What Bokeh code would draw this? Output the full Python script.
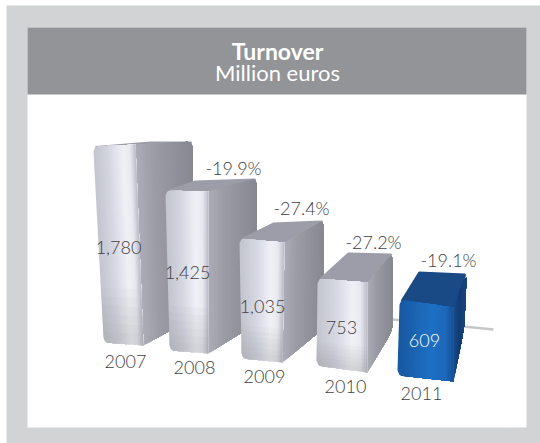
import math
from bokeh.plotting import figure
from bokeh.embed import file_html
from bokeh.resources import INLINE
from bokeh.models import Range1d
from bokeh.core.properties import value

years = ["2007", "2008", "2009", "2010", "2011"]
turnover = [1780, 1425, 1035, 753, 609]
changes = ["-19.9%", "-27.4%", "-27.2%", "-19.1%"]
title_main = "Turnover"
title_sub = "Million euros"

W, H = 540, 443
PX_V = 0.112          # pixels per turnover unit

p = figure(width=W, height=H, output_backend="svg", toolbar_location=None,
           min_border=0, outline_line_color=None, background_fill_color="#ffffff",
           border_fill_color="#ffffff",
           x_range=Range1d(0, W), y_range=Range1d(-H / PX_V, 0))
p.axis.visible = False
p.grid.visible = False

def Y(py):
    return -py / PX_V

def band(x0, x1, y0, y1, c):
    p.quad(left=[x0], right=[x1], top=[Y(y0)], bottom=[Y(y1)], fill_color=c, line_color=None)

def lerp(a, b, t):
    return a + (b - a) * t

def mix(c1, c2, t):
    return "#%02x%02x%02x" % tuple(round(lerp(a, b, t)) for a, b in zip(c1, c2))

def ramp(stops, t):
    for (t0, c0), (t1, c1) in zip(stops, stops[1:]):
        if t <= t1:
            return mix(c0, c1, (t - t0) / max(t1 - t0, 1e-6))
    return mix(stops[-1][1], stops[-1][1], 0)

# frame
band(6, W, 5, H, "#d1d3d4")
band(27, 526, 27, 427, "#ffffff")
band(27, 526, 27, 94, "#929497")

# floor line behind the bars
p.line([392, 493], [Y(319), Y(329)], line_color="#c6c7c9", line_width=2.5)

bases = [
    ((103, 342), (143, 345), (192, 318)),
    ((169, 350), (208, 353), (256, 323)),
    ((241, 358), (282, 362), (323, 328)),
    ((316, 365), (367, 372), (392, 330)),
    ((397, 375), (453, 381), (464, 327)),
]
tops = [
    ((93, 146), (135, 144), (192, 141)),
    ((165, 190), (208, 191), (256, 178)),
    ((239, 238), (284, 242), (323, 220)),
    ((317, 278), (367, 282), (392, 253)),
    ((399, 299), (453, 307), (466, 273)),
]
back_left = [(150, 141), (195, 180), (273, 222), (348, 252), (419, 271)]

grey_front = [(0, (194, 196, 206)), (0.35, (212, 214, 224)), (0.7, (240, 241, 247)), (0.86, (232, 233, 240)), (1, (186, 187, 196))]
grey_side = [(0, (172, 173, 182)), (0.3, (156, 157, 166)), (1, (134, 135, 144))]
blue_front = [(0, (24, 88, 160)), (0.6, (30, 112, 196)), (0.85, (28, 104, 186)), (1, (22, 80, 150))]
blue_side = [(0, (24, 76, 140)), (0.5, (20, 60, 116)), (1, (26, 70, 128))]
N = 30
R = 5.0

def dip(d):
    if d >= R:
        return 0.0
    return R - math.sqrt(max(R * R - (R - d) ** 2, 0))

def face(a_bot, b_bot, a_top, b_top, stops, round_l_top, round_l_bot, round_r_top, round_r_bot, shade=False):
    w = abs(b_bot[0] - a_bot[0]) + 1e-6
    outline = None
    for k in range(N):
        t0 = k / N
        ts = [j / N for j in range(k, N)] + [1.0]
        bot, top = [], []
        for t in ts:
            dl, dr = t * w, (1 - t) * w
            off_b = (dip(dl) if round_l_bot else 0) + (dip(dr) if round_r_bot else 0)
            off_t = (dip(dl) if round_l_top else 0) + (dip(dr) if round_r_top else 0)
            bot.append((lerp(a_bot[0], b_bot[0], t), lerp(a_bot[1], b_bot[1], t) - off_b))
            top.append((lerp(a_top[0], b_top[0], t), lerp(a_top[1], b_top[1], t) + off_t))
        if k == 0:
            outline = (bot, top)
        q = bot + top[::-1]
        col = ramp(stops, (t0 + 0.5 / N))
        p.patch([c[0] for c in q], [Y(c[1]) for c in q], fill_color=col, line_color=None)
    if shade:
        # the lower part of a grey front falls slightly darker
        bot, top = outline
        for s in range(6):
            f = 0.72 + s * 0.045
            mid = [(lerp(a[0], b[0], f), lerp(a[1], b[1], f)) for a, b in zip(top, bot)]
            q = mid + bot[::-1]
            p.patch([c[0] for c in q], [Y(c[1]) for c in q], fill_color="#70727e", fill_alpha=0.035, line_color=None)

for i, v in enumerate(turnover):
    fl, fr, br = bases[i]
    tfl, tfr, tbr = tops[i]
    tbl = back_left[i]
    blue = i == 4
    top_col = "#1a4a85" if blue else "#9c9da8"
    p.patch([tfl[0] + 3, tfr[0], tbr[0] - 2, tbl[0]],
            [Y(tfl[1] + 1), Y(tfr[1] + 1), Y(tbr[1] + 1.5), Y(tbl[1] + 1.5)],
            fill_color=top_col, line_color=top_col, line_width=3, line_join="round")
    face(fr, br, tfr, tbr, blue_side if blue else grey_side, False, False, True, True)
    face(fl, fr, tfl, tfr, blue_front if blue else grey_front, True, True, False, False, shade=not blue)

text_col = "#414042"
font = value("Lato Light")
val_pos = [(118, 247), (187, 272), (262, 306), (341, 327), (424, 340)]
year_pos = [(125, 361), (194, 367), (264, 376), (345, 386), (421, 393)]
chg_pos = [(233, 167), (301, 207), (373, 241), (448, 259)]

for i, v in enumerate(turnover):
    p.text([val_pos[i][0]], [Y(val_pos[i][1])], text=[f"{v:,}"], text_align="center",
           text_baseline="middle", text_font=font, text_font_size="18px",
           text_color="#ffffff" if i == 4 else text_col)
    p.text([year_pos[i][0]], [Y(year_pos[i][1])], text=[years[i]], text_align="center",
           text_baseline="middle", text_font=font, text_font_size="18px", text_color=text_col)
for c, pos in zip(changes, chg_pos):
    p.text([pos[0]], [Y(pos[1])], text=[c], text_align="center", text_baseline="middle",
           text_font=font, text_font_size="18px", text_color=text_col)

p.text([277], [Y(50)], text=[title_main], text_align="center", text_baseline="middle",
       text_font=value("Lato"), text_font_style="bold", text_font_size="23px", text_color="#ffffff")
p.text([277], [Y(72)], text=[title_sub], text_align="center", text_baseline="middle",
       text_font=value("Lato"), text_font_size="22px", text_color="#ffffff")

open("out.html", "w").write(file_html(p, INLINE))
